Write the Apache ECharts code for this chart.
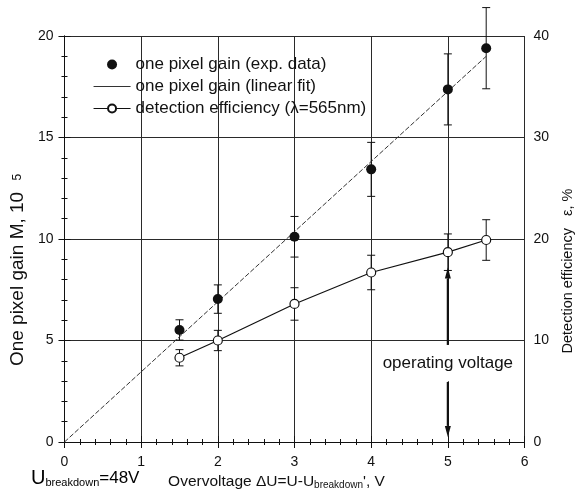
<!DOCTYPE html>
<html>
<head>
<meta charset="utf-8">
<script src="https://cdn.jsdelivr.net/npm/echarts@6/dist/echarts.min.js"></script>
<style>
html, body { margin: 0; padding: 0; background: #fff; }
#chart { width: 583px; height: 499px; }
</style>
</head>
<body>
<div id="chart"></div>
<script>
// values
var overvoltage = [1.5, 2, 3, 4, 5, 5.5];
var gainExp = [5.52, 7.04, 10.11, 13.43, 17.37, 19.4];
var gainErr = [0.5, 0.7, 1.0, 1.33, 1.75, 2.0];
var fitX = [0, 5.5];
var fitGain = [0, 19.0];
var efficiency = [8.3, 10.0, 13.6, 16.7, 18.7, 19.9];
var efficiencyErr = [0.8, 1.0, 1.6, 1.7, 1.8, 2.0];
// operating voltage note, in gain-axis units
var operatingVoltage = 5;
var arrowUp = [4.78, 8.6];
var arrowDown = [2.96, 0.25];
var noteAt = 3.9;

var FONT = "'Liberation Sans', Arial, sans-serif";
var INK = '#111';

var chartDom = document.getElementById('chart');
var myChart = echarts.init(chartDom);

function pairs(xs, ys) {
  return xs.map(function (x, i) { return [x, ys[i]]; });
}
function bars(xs, ys, errs) {
  return xs.map(function (x, i) { return [x, ys[i] - errs[i], ys[i] + errs[i]]; });
}

function errorBar(params, api) {
  var x = api.value(0);
  var lo = api.coord([x, api.value(1)]);
  var hi = api.coord([x, api.value(2)]);
  var w = 4;
  var style = { stroke: INK, lineWidth: 1 };
  return {
    type: 'group',
    children: [
      { type: 'line', shape: { x1: lo[0], y1: lo[1], x2: hi[0], y2: hi[1] }, style: style },
      { type: 'line', shape: { x1: lo[0] - w, y1: lo[1], x2: lo[0] + w, y2: lo[1] }, style: style },
      { type: 'line', shape: { x1: hi[0] - w, y1: hi[1], x2: hi[0] + w, y2: hi[1] }, style: style }
    ]
  };
}

function arrow(params, api) {
  var from = api.coord([api.value(0), api.value(1)]);
  var to = api.coord([api.value(0), api.value(2)]);
  var dir = to[1] > from[1] ? 1 : -1;
  var len = 11, hw = 3;
  return {
    type: 'group',
    children: [
      { type: 'line', shape: { x1: from[0], y1: from[1], x2: to[0], y2: to[1] - dir * len },
        style: { stroke: INK, lineWidth: 2.2 } },
      { type: 'polygon', shape: { points: [[to[0], to[1]], [to[0] - hw, to[1] - dir * len], [to[0] + hw, to[1] - dir * len]] },
        style: { fill: INK } }
    ]
  };
}

function note(params, api) {
  var p = api.coord([api.value(0), api.value(1)]);
  return {
    type: 'text',
    x: p[0], y: p[1],
    style: {
      text: 'operating voltage', fontSize: 17, fontFamily: FONT, fill: INK,
      align: 'center', verticalAlign: 'middle',
      backgroundColor: '#fff', padding: [10, 3]
    }
  };
}

var axisCommon = {
  axisLine: { show: true, lineStyle: { color: INK, width: 1 } },
  axisTick: { show: true, inside: true, length: 6, lineStyle: { color: INK } },
  minorTick: { show: true, splitNumber: 5, length: 3, lineStyle: { color: INK } },
  axisLabel: { color: INK, fontSize: 14, fontFamily: FONT },
  splitLine: { show: true, lineStyle: { color: '#2a2a2a', width: 1 } },
  nameTextStyle: { color: INK, fontSize: 14, fontFamily: FONT }
};

var option = {
  animation: false,
  backgroundColor: '#fff',
  textStyle: { fontFamily: FONT },
  grid: { left: 64, right: 50, top: 36, bottom: 57 },
  legend: {
    orient: 'vertical',
    left: 93, top: 56, padding: 0,
    itemWidth: 37, itemHeight: 10, itemGap: 5,
    textStyle: { color: INK, fontSize: 17, fontFamily: FONT },
    data: [
      { name: 'one pixel gain (exp. data)' },
      { name: 'one pixel gain (linear fit)', lineStyle: { type: 'solid', width: 1 }, itemStyle: { opacity: 0 } },
      { name: 'detection efficiency (λ=565nm)', lineStyle: { width: 1.1 } }
    ]
  },
  xAxis: [
    Object.assign({}, axisCommon, {
      type: 'value', min: 0, max: 6, interval: 1, position: 'bottom',
      axisLabel: Object.assign({}, axisCommon.axisLabel, { margin: 13 }),
      name: "Overvoltage ΔU=U-U{sub|breakdown}', V",
      nameLocation: 'middle', nameGap: 29,
      nameTextStyle: {
        color: INK, fontSize: 15.5, fontFamily: FONT, padding: [0, 36, 0, 0],
        rich: { sub: { fontSize: 10, fontFamily: FONT, color: INK, verticalAlign: 'bottom', padding: [7, 0, 0, 0] } }
      }
    }),
    Object.assign({}, axisCommon, {
      type: 'value', min: 0, max: 6, interval: 1, position: 'top',
      axisLabel: { show: false }, splitLine: { show: false }
    })
  ],
  yAxis: [
    Object.assign({}, axisCommon, {
      type: 'value', min: 0, max: 20, interval: 5, position: 'left',
      axisLabel: Object.assign({}, axisCommon.axisLabel, { margin: 11 }),
      name: 'One pixel gain M, 10 {s|5}',
      nameLocation: 'middle', nameGap: 33,
      nameTextStyle: {
        color: INK, fontSize: 19, fontFamily: FONT, padding: [0, 62, 0, 0],
        rich: { s: { fontSize: 12, fontFamily: FONT, color: INK, padding: [0, 0, 0, 6] } }
      }
    }),
    Object.assign({}, axisCommon, {
      type: 'value', min: 0, max: 40, interval: 10, position: 'right',
      axisLabel: Object.assign({}, axisCommon.axisLabel, { margin: 9 }),
      splitLine: { show: false },
      name: 'Detection efficiency   ε, %',
      nameLocation: 'middle', nameGap: 30,
      nameTextStyle: { color: INK, fontSize: 14.5, fontFamily: FONT, padding: [0, 64, 0, 0] }
    })
  ],
  graphic: [
    {
      type: 'text', left: 31, top: 468,
      style: {
        text: '{u|U}{sub|breakdown}{t|=48V}',
        rich: {
          u: { fontSize: 20, fontFamily: FONT, color: INK },
          sub: { fontSize: 11, fontFamily: FONT, color: INK, verticalAlign: 'bottom', padding: [9, 0, 0, 0] },
          t: { fontSize: 17, fontFamily: FONT, color: INK }
        }
      }
    }
  ],
  series: [
    {
      type: 'custom', name: 'gain error', xAxisIndex: 0, yAxisIndex: 0, z: 2,
      renderItem: errorBar, data: bars(overvoltage, gainExp, gainErr)
    },
    {
      type: 'custom', name: 'efficiency error', xAxisIndex: 0, yAxisIndex: 1, z: 2,
      renderItem: errorBar, data: bars(overvoltage, efficiency, efficiencyErr)
    },
    {
      type: 'line', name: 'one pixel gain (linear fit)', xAxisIndex: 0, yAxisIndex: 0, z: 3,
      showSymbol: false, symbol: 'none',
      lineStyle: { color: '#333', width: 1, type: [5, 2] },
      itemStyle: { color: '#333' },
      data: pairs(fitX, fitGain)
    },
    {
      type: 'scatter', name: 'one pixel gain (exp. data)', xAxisIndex: 0, yAxisIndex: 0, z: 4,
      symbol: 'circle', symbolSize: 10, itemStyle: { color: INK, opacity: 1 },
      data: pairs(overvoltage, gainExp)
    },
    {
      type: 'line', name: 'detection efficiency (λ=565nm)', xAxisIndex: 0, yAxisIndex: 1, z: 4,
      symbol: 'circle', symbolSize: 9, showAllSymbol: true,
      lineStyle: { color: INK, width: 1.2 },
      itemStyle: { color: '#fff', borderColor: INK, borderWidth: 1.2 },
      data: pairs(overvoltage, efficiency)
    },
    {
      type: 'custom', name: 'operating voltage arrows', xAxisIndex: 0, yAxisIndex: 0, z: 5,
      renderItem: arrow,
      data: [[operatingVoltage, arrowUp[0], arrowUp[1]], [operatingVoltage, arrowDown[0], arrowDown[1]]]
    },
    {
      type: 'custom', name: 'operating voltage note', xAxisIndex: 0, yAxisIndex: 0, z: 3,
      renderItem: note,
      data: [[operatingVoltage, noteAt]]
    }
  ]
};

myChart.setOption(option);
</script>
</body>
</html>
